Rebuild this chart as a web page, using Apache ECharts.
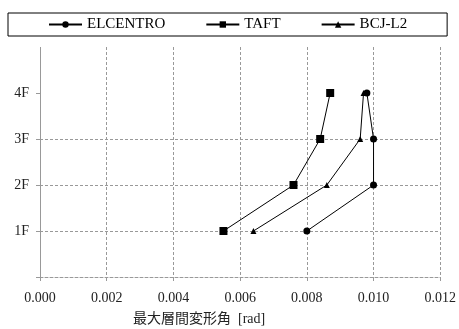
<!DOCTYPE html>
<html><head><meta charset="utf-8">
<script src="https://cdn.jsdelivr.net/npm/echarts@6/dist/echarts.min.js"></script>
<style>html,body{margin:0;padding:0;background:#fff}#c{width:459px;height:329px}</style>
</head><body><div id="c"></div>
<script>
const floors = ['1F','2F','3F','4F'];
const floorLevels = [1,2,3,4];
const elcentro = [0.0080, 0.0100, 0.0100, 0.0098];
const taft = [0.0055, 0.0076, 0.0084, 0.0087];
const bcj = [0.0064, 0.0086, 0.0096, 0.0097];
const xTicks = [0, 0.002, 0.004, 0.006, 0.008, 0.010, 0.012];
const FONT = '"Liberation Serif","Times New Roman","Noto Sans CJK JP",serif';

function pts(vals){ return vals.map((v,i)=>[v, floorLevels[i]]); }
const chart = echarts.init(document.getElementById('c'), null, {renderer:'canvas'});
const lineStyle = {color:'#000', width:1};
const dash = [3,2];
chart.setOption({
  animation:false,
  textStyle:{fontFamily:FONT},
  grid:{left:40, right:17, top:47, bottom:52},
  legend:{
    left:8, top:13, width:437,
    padding:[4,40,4,40], itemGap:40, itemWidth:33, itemHeight:8,
    borderColor:'#000', borderWidth:1, borderRadius:0,
    textStyle:{fontFamily:FONT, fontSize:15, color:'#000'},
    data:['ELCENTRO','TAFT','BCJ-L2']
  },
  title:{
    text:'最大層間変形角  [rad]', left:133, top:312, padding:0,
    textStyle:{fontFamily:FONT, fontSize:14, fontWeight:'normal', color:'#222'}
  },
  xAxis:{
    type:'value', min:0, max:0.012, interval:0.002,
    axisLine:{show:true, lineStyle:{color:'#999', type:dash}},
    axisTick:{show:true, length:4, lineStyle:{color:'#999'}},
    axisLabel:{margin:14, color:'#222', fontSize:14, fontFamily:FONT, formatter:v=>v.toFixed(3)},
    splitLine:{show:true, lineStyle:{color:'#999', type:dash}}
  },
  yAxis:{
    type:'value', min:0, max:5, interval:1,
    axisLine:{show:true, lineStyle:{color:'#999', type:dash}},
    axisTick:{show:true, length:4, lineStyle:{color:'#999'}, customValues:[0,1,2,3,4]},
    axisLabel:{margin:11, color:'#222', fontSize:14, fontFamily:FONT,
      formatter:v=>{const i=floorLevels.indexOf(v); return i>=0?floors[i]:'';}},
    splitLine:{show:true, showMinLine:false, showMaxLine:false, lineStyle:{color:'#999', type:dash}}
  },
  series:[
    {name:'ELCENTRO', type:'line', data:pts(elcentro), symbol:'circle', symbolSize:7,
      lineStyle, itemStyle:{color:'#000'}},
    {name:'TAFT', type:'line', data:pts(taft), symbol:'rect', symbolSize:8,
      lineStyle, itemStyle:{color:'#000'}},
    {name:'BCJ-L2', type:'line', data:pts(bcj), symbol:'triangle', symbolSize:6,
      lineStyle, itemStyle:{color:'#000'}}
  ]
});
</script></body></html>
